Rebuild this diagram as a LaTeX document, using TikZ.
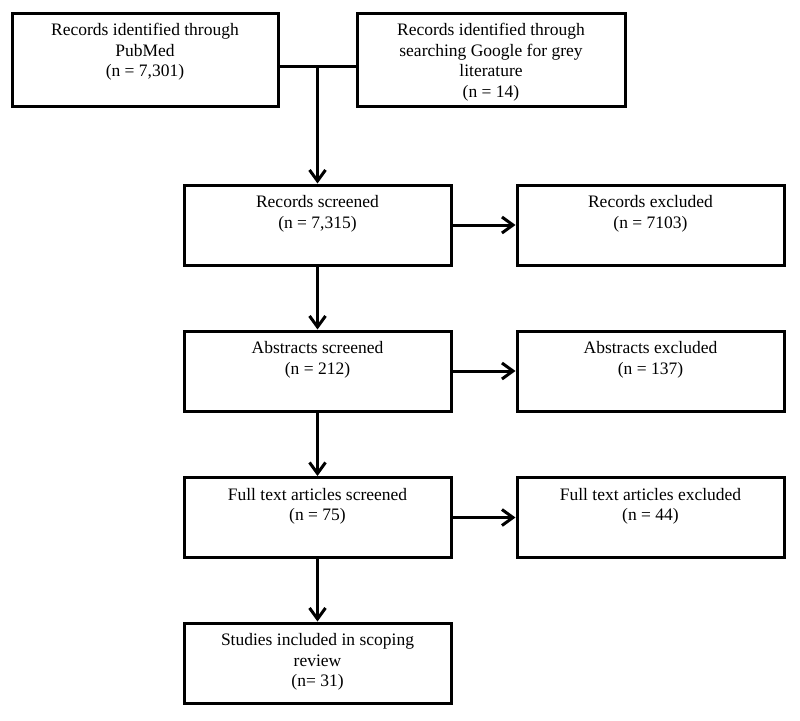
\documentclass[tikz,border=0pt]{standalone}
\usepackage{fontspec}
\setmainfont{Liberation Serif}
\usetikzlibrary{arrows.meta}
\begin{document}
\begin{tikzpicture}[x=1pt,y=-1pt,
  box/.style={draw=black, line width=3pt, minimum width=267pt, minimum height=80pt, inner sep=0pt},
  topbox/.style={box, minimum height=93pt},
  txt/.style={anchor=north, align=center, inner sep=0pt, font=\fontsize{17.5}{20.5}\selectfont},
  conn/.style={line width=3pt},
  arr/.style={line width=3pt, -{Straight Barb[length=11pt,width=16pt,line width=3pt]}}
]
\useasboundingbox (0,0) rectangle (800,720);
\fill[white] (0,0) rectangle (800,720);

% top row
\node[topbox, minimum width=266pt] (b1) at (145,59.5) {};
\node[topbox, minimum width=268pt] (b2) at (491,59.5) {};
\node[txt] (b1t) at ([yshift=-11.5pt]b1.north) {Records identified through\\PubMed\\(n = 7,301)};
\node[txt] (b2t) at ([yshift=-11.5pt]b2.north) {Records identified through\\searching Google for grey\\literature\\(n = 14)};

% main column
\node[box] (s1) at (317.5,225) {};
\node[box] (s2) at (317.5,371) {};
\node[box] (s3) at (317.5,517.5) {};
\node[box] (s4) at (317.5,663) {};
\node[txt] (s1t) at ([yshift=-12pt]s1.north) {Records screened\\(n = 7,315)};
\node[txt] (s2t) at ([yshift=-12pt]s2.north) {Abstracts screened\\(n = 212)};
\node[txt] (s3t) at ([yshift=-12pt]s3.north) {Full text articles screened\\(n = 75)};
\node[txt] (s4t) at ([yshift=-12pt]s4.north) {Studies included in scoping\\review\\(n= 31)};

% excluded column
\node[box] (e1) at (650.5,225) {};
\node[box] (e2) at (650.5,371) {};
\node[box] (e3) at (650.5,517.5) {};
\node[txt] (e1t) at ([yshift=-12pt]e1.north) {Records excluded\\(n = 7103)};
\node[txt] (e2t) at ([yshift=-12pt]e2.north) {Abstracts excluded\\(n = 137)};
\node[txt] (e3t) at ([yshift=-12pt]e3.north) {Full text articles excluded\\(n = 44)};

% connectors
\coordinate (j) at (s1.north |- 0,66);
\draw[conn] (b1.east |- j) -- (b2.west |- j);
\draw[arr] (j) -- (s1.north);
\draw[arr] (s1.south) -- (s2.north);
\draw[arr] (s2.south) -- (s3.north);
\draw[arr] (s3.south) -- (s4.north);
\draw[arr] (s1.east) -- (e1.west);
\draw[arr] (s2.east) -- (e2.west);
\draw[arr] (s3.east) -- (e3.west);
\end{tikzpicture}
\end{document}
